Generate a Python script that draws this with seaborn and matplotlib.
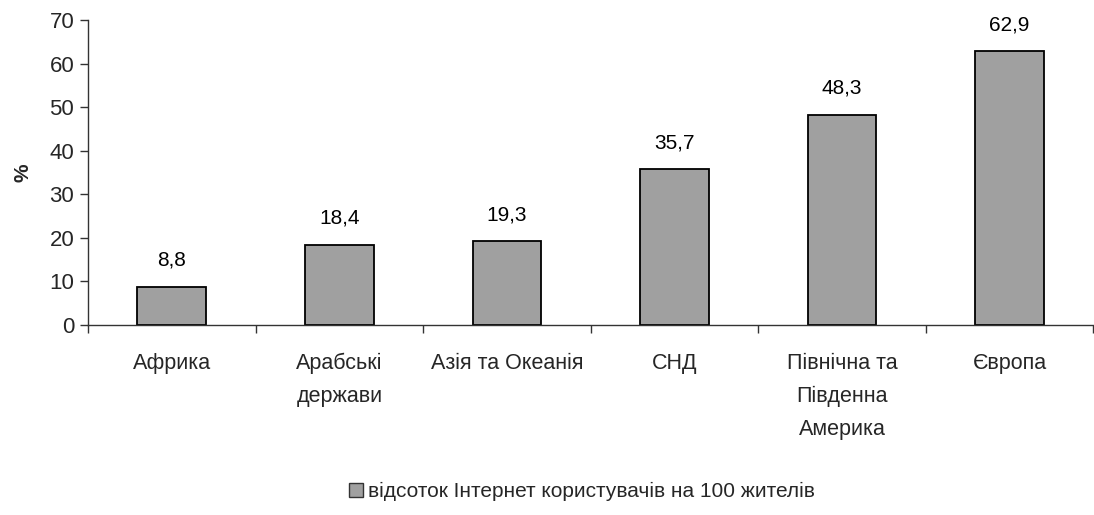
import matplotlib
matplotlib.use("Agg")
import matplotlib.pyplot as plt
import seaborn as sns
import pandas as pd
from matplotlib.patches import Patch

regions = ["Африка", "Арабські\nдержави", "Азія та Океанія", "СНД",
           "Північна та\nПівденна\nАмерика", "Європа"]
values = [8.8, 18.4, 19.3, 35.7, 48.3, 62.9]
value_labels = ["8,8", "18,4", "19,3", "35,7", "48,3", "62,9"]
series_name = "відсоток Інтернет користувачів на 100 жителів"
y_ticks = [0, 10, 20, 30, 40, 50, 60, 70]

sns.set_theme(style="white")
plt.rcParams["font.family"] = ["Liberation Sans", "DejaVu Sans"]

df = pd.DataFrame({"region": regions, "value": values})

fig = plt.figure(figsize=(10.94, 5.15), dpi=100)
ax = fig.add_axes([0.0805, 0.369, 0.919, 0.592])

bar_color = "#a0a0a0"
sns.barplot(data=df, x="region", y="value", color=bar_color, width=0.41,
            edgecolor="black", linewidth=1.3, saturation=1, ax=ax)

# value labels above each bar
for i, (v, lab) in enumerate(zip(values, value_labels)):
    ax.annotate(lab, xy=(i, v), xytext=(0, 15), textcoords="offset points",
                ha="center", va="baseline", fontsize=15, color="black")

ax.set_ylim(0, 70)
ax.set_xlim(-0.5, len(regions) - 0.5)
ax.set_yticks(y_ticks)
ax.set_yticklabels([str(t) for t in y_ticks], fontsize=16)
ax.set_ylabel("%", fontsize=15, fontweight="bold", labelpad=12)
ax.set_xlabel("")

# category ticks sit on the boundaries between bars
ax.set_xticks([i + 0.5 for i in range(-1, len(regions))], minor=True)
ax.set_xticks(range(len(regions)))
ax.set_xticklabels(regions, fontsize=15.5, linespacing=1.75, va="top")
ax.tick_params(axis="x", which="major", length=0, pad=20)
ax.tick_params(axis="x", which="minor", length=6, width=1, color="#333333", direction="out", bottom=True)
ax.tick_params(axis="y", length=6, width=1, color="#333333", direction="out", left=True, pad=4)

for side in ["top", "right"]:
    ax.spines[side].set_visible(False)
for side in ["left", "bottom"]:
    ax.spines[side].set_color("#333333")
    ax.spines[side].set_linewidth(1)

handle = Patch(facecolor=bar_color, edgecolor="#333333", linewidth=1)
fig.legend([handle], [series_name], loc="center", bbox_to_anchor=(0.532, 0.045),
           frameon=False, fontsize=15, handlelength=0.7, handleheight=0.7,
           handletextpad=0.25)

fig.savefig("out.png", dpi=100)
